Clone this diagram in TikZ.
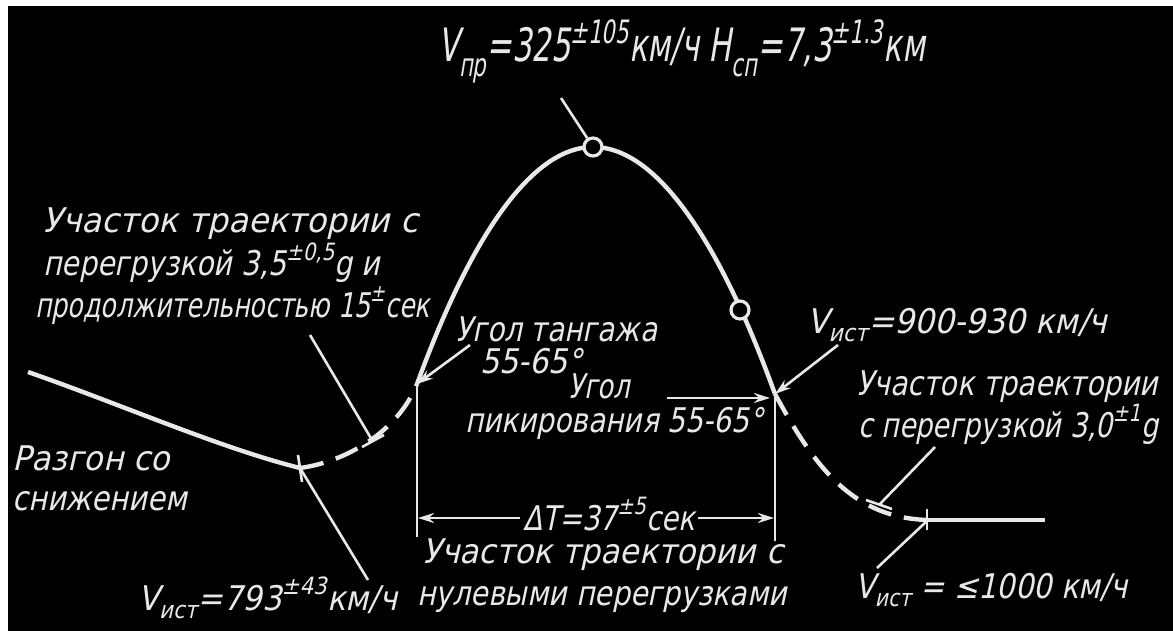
\documentclass[tikz,border=0pt]{standalone}
\usepackage{fontspec}
\usepackage{graphicx}
\setmainfont{DejaVu Sans}[FakeSlant=0.25]
\usetikzlibrary{arrows.meta}
\definecolor{ink}{RGB}{232,232,232}
\newcommand{\up}[1]{\raisebox{0.2em}{\textsuperscript{#1}}}
\newcommand{\dn}[1]{\raisebox{-0.12em}{\textsubscript{#1}}}
\newcommand{\tx}[2]{\resizebox{#1pt}{\height}{#2}}
\begin{document}
\begin{tikzpicture}[x=1pt,y=-1pt,
  curve/.style={draw=ink, line width=4.4pt},
  dashcurve/.style={curve, dash pattern=on 24pt off 13pt},
  leader/.style={draw=ink, line width=2.6pt},
  arr/.style={leader, -{Stealth[length=16pt,width=10pt]}},
  lbl/.style={anchor=base west, text=ink, inner sep=0pt, font=\fontsize{34}{36}\selectfont},
  biglbl/.style={lbl, font=\fontsize{46}{48}\selectfont},
  ring/.style={circle, draw=ink, fill=black, line width=3.2pt, minimum size=18pt, inner sep=0pt}]
\useasboundingbox (0,0) rectangle (1173,631);
\fill[white] (0,0) rectangle (1173,631);
\fill[black] (8,6) rectangle (1173,631);

% trajectory points
\coordinate (s0) at (28,372);
\coordinate (s1) at (300,468);
\coordinate (a) at (417,384);
\coordinate (top) at (593,147);
\coordinate (b) at (775,394);
\coordinate (c) at (928,520);
\coordinate (e) at (1045,520);

\draw[curve] (s0) .. controls (120,404) and (220,448) .. (s1);
\draw[dashcurve] (s1) .. controls (345,462) and (398,432) .. (a);
\draw[curve] (a) parabola bend (top) (b);
\draw[dashcurve] (b) .. controls (812,462) and (850,518) .. (c);
\draw[curve] (c) -- (e);

\node[ring] (pk) at (top) {};
\node[ring] (pt2) at (740,310) {};

% ticks on the trajectory
\coordinate (t1a) at (298,455); \coordinate (t1b) at (302,482);
\draw[leader] (t1a) -- (t1b);
\coordinate (t2a) at (927,509); \coordinate (t2b) at (927,530);
\draw[leader] (t2a) -- (t2b);

% text labels
\node[biglbl] (vtop) at (438,62) {\tx{487}{V\dn{пр}=325\up{±105}км/ч H\dn{сп}=7,3\up{±1.3}км}};
\node[lbl] (l1a) at (42,233) {\tx{376}{Участок траектории с}};
\node[lbl] (l1b) at (43,276) {\tx{337}{перегрузкой 3,5\up{±0,5}g и}};
\node[lbl] (l1c) at (35,317) {\tx{395}{продолжительностью 15\up{±}сек}};
\node[lbl] (r1a) at (12,470) {\tx{158}{Разгон со}};
\node[lbl] (r1b) at (12,510) {\tx{175}{снижением}};
\node[lbl] (v793) at (138,610) {\tx{259}{V\dn{ист}=793\up{±43}км/ч}};
\node[lbl] (tg1) at (455,341) {\tx{202}{Угол тангажа}};
\node[lbl] (tg2) at (480,373) {\tx{102}{55-65°}};
\node[lbl] (pk1) at (568,398) {\tx{62}{Угол}};
\node[lbl] (pk2) at (465,432) {\tx{298}{пикирования 55-65°}};
\node[lbl] (v900) at (807,333) {\tx{300}{V\dn{ист}=900-930 км/ч}};
\node[lbl] (r2a) at (856,395) {\tx{302}{Участок траектории}};
\node[lbl] (r2b) at (858,437) {\tx{300}{с перегрузкой 3,0\up{±1}g}};
\node[lbl] (dt) at (523,530) {\tx{172}{ΔТ=37\up{±5}сек}};
\node[lbl] (z1) at (422,563) {\tx{361}{Участок траектории с}};
\node[lbl] (z2) at (417,605) {\tx{370}{нулевыми перегрузками}};
\node[lbl] (v1000) at (855,598) {\tx{272}{V\dn{ист} = ≤1000 км/ч}};

% leaders
\coordinate (ld1s) at (310,335); \coordinate (ld1e) at (372,440);
\draw[leader] (ld1s) -- (ld1e);
\coordinate (tb1a) at (362,447); \coordinate (tb1b) at (384,435);
\draw[leader] (tb1a) -- (tb1b);
\coordinate (ld2e) at (368,580);
\draw[leader] (s1) -- (ld2e);
\coordinate (ld3s) at (561,98);
\draw[leader] (ld3s) -- (pk);
\coordinate (ld4s) at (470,345);
\draw[arr] (ld4s) -- (a);
\coordinate (ld5s) at (667,398); \coordinate (ld5e) at (770,398);
\draw[arr] (ld5s) -- (ld5e);
\coordinate (ld6s) at (838,345);
\draw[arr] (ld6s) -- (b);
\coordinate (ld7s) at (935,447); \coordinate (ld7e) at (879,505);
\draw[leader] (ld7s) -- (ld7e);
\coordinate (tb2a) at (866,500); \coordinate (tb2b) at (892,509);
\draw[leader] (tb2a) -- (tb2b);
\coordinate (ld8s) at (877,568);
\draw[leader] (ld8s) -- (c);

% dimension lines
\coordinate (d1) at (417,537); \coordinate (d2) at (775,541);
\draw[leader] (a) -- (d1);
\draw[leader] (b) -- (d2);
\coordinate (dl) at (418,518); \coordinate (dr) at (774,518);
\coordinate (dlt) at (520,518); \coordinate (drt) at (698,518);
\draw[arr] (dlt) -- (dl);
\draw[arr] (drt) -- (dr);
\end{tikzpicture}
\end{document}
